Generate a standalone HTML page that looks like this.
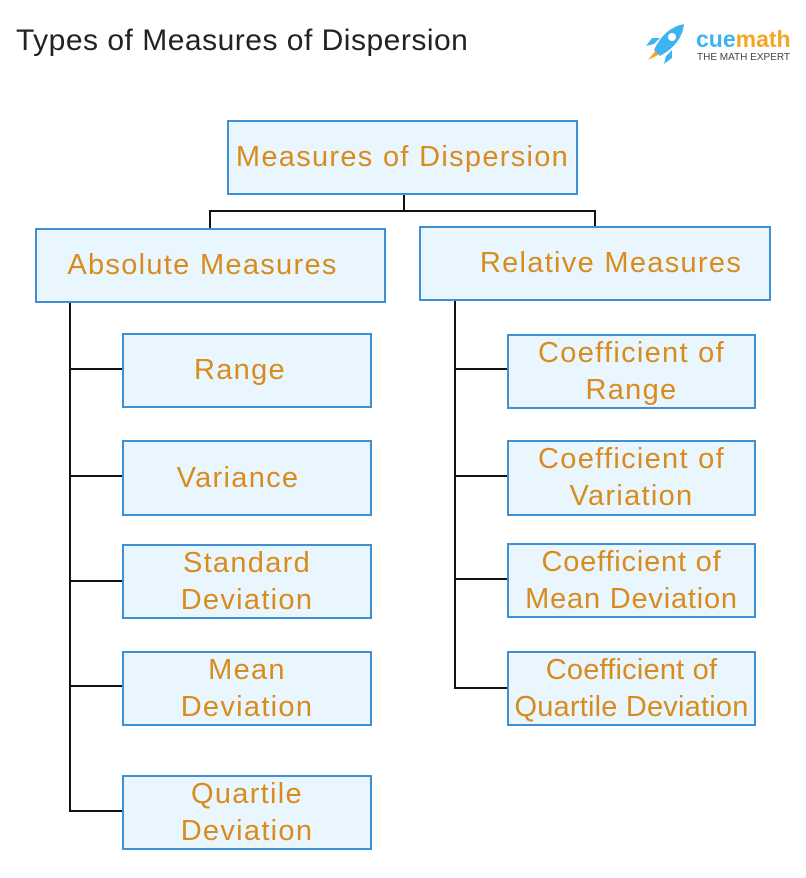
<!DOCTYPE html>
<html><head><meta charset="utf-8"><style>
body{margin:0;width:806px;height:878px;background:#fff;position:relative;overflow:hidden;font-family:"Liberation Sans",sans-serif}
.b{position:absolute;box-sizing:border-box;background:#eaf6fd;border:2px solid #3f8fd4;color:#d98c1e;font-size:29px;line-height:37px;display:flex;align-items:center;justify-content:center;text-align:center;letter-spacing:1.3px;white-space:nowrap}
.l{position:absolute;background:#111}
</style></head><body>
<div style="position:absolute;left:16px;top:24px;font-size:30px;letter-spacing:0.5px;color:#222">Types of Measures of Dispersion</div>
<svg style="position:absolute;left:640px;top:20px" width="52" height="48" viewBox="0 0 52 48">
<path d="M8 40 L16 30 L20 34 Z" fill="#f5a623"/>
<path d="M14 30 Q24 8 44 4 Q42 24 20 36 Z" fill="#3db4ef"/>
<circle cx="32" cy="17" r="4" fill="#fff"/>
<path d="M14 24 L6 26 L12 18 L20 18Z" fill="#3db4ef"/>
<path d="M26 36 L24 44 L32 38 L32 30Z" fill="#3db4ef"/>
</svg>
<div style="position:absolute;left:696px;top:26px;font-size:23px;font-weight:bold"><span style="color:#3db4ef">cue</span><span style="color:#f5a623">math</span></div>
<div style="position:absolute;left:697px;top:52px;font-size:10px;color:#444">THE MATH EXPERT</div>

<div class="l" style="left:403px;top:194px;width:2px;height:18px"></div>
<div class="l" style="left:209px;top:210px;width:387px;height:2px"></div>
<div class="l" style="left:209px;top:210px;width:2px;height:18px"></div>
<div class="l" style="left:594px;top:210px;width:2px;height:16px"></div>
<div class="l" style="left:69px;top:302px;width:2px;height:510px"></div>
<div class="l" style="left:69px;top:368px;width:53px;height:2px"></div>
<div class="l" style="left:69px;top:475px;width:53px;height:2px"></div>
<div class="l" style="left:69px;top:580px;width:53px;height:2px"></div>
<div class="l" style="left:69px;top:685px;width:53px;height:2px"></div>
<div class="l" style="left:69px;top:810px;width:53px;height:2px"></div>
<div class="l" style="left:454px;top:300px;width:2px;height:389px"></div>
<div class="l" style="left:454px;top:368px;width:53px;height:2px"></div>
<div class="l" style="left:454px;top:475px;width:53px;height:2px"></div>
<div class="l" style="left:454px;top:578px;width:53px;height:2px"></div>
<div class="l" style="left:454px;top:687px;width:53px;height:2px"></div>

<div class="b" style="left:227px;top:120px;width:351px;height:75px">Measures of Dispersion</div>
<div class="b" style="left:35px;top:228px;width:351px;height:75px;padding-right:16px">Absolute Measures</div>
<div class="b" style="left:419px;top:226px;width:352px;height:75px;padding-left:32px">Relative Measures</div>

<div class="b" style="left:122px;top:333px;width:250px;height:75px;padding-right:14px">Range</div>
<div class="b" style="left:122px;top:440px;width:250px;height:76px;padding-right:18px">Variance</div>
<div class="b" style="left:122px;top:544px;width:250px;height:75px">Standard<br>Deviation</div>
<div class="b" style="left:122px;top:651px;width:250px;height:75px">Mean<br>Deviation</div>
<div class="b" style="left:122px;top:775px;width:250px;height:75px">Quartile<br>Deviation</div>

<div class="b" style="left:507px;top:334px;width:249px;height:75px">Coefficient of<br>Range</div>
<div class="b" style="left:507px;top:440px;width:249px;height:76px">Coefficient of<br>Variation</div>
<div class="b" style="left:507px;top:543px;width:249px;height:75px;letter-spacing:0.8px">Coefficient of<br>Mean Deviation</div>
<div class="b" style="left:507px;top:651px;width:249px;height:75px;letter-spacing:0.2px">Coefficient of<br>Quartile Deviation</div>
</body></html>
